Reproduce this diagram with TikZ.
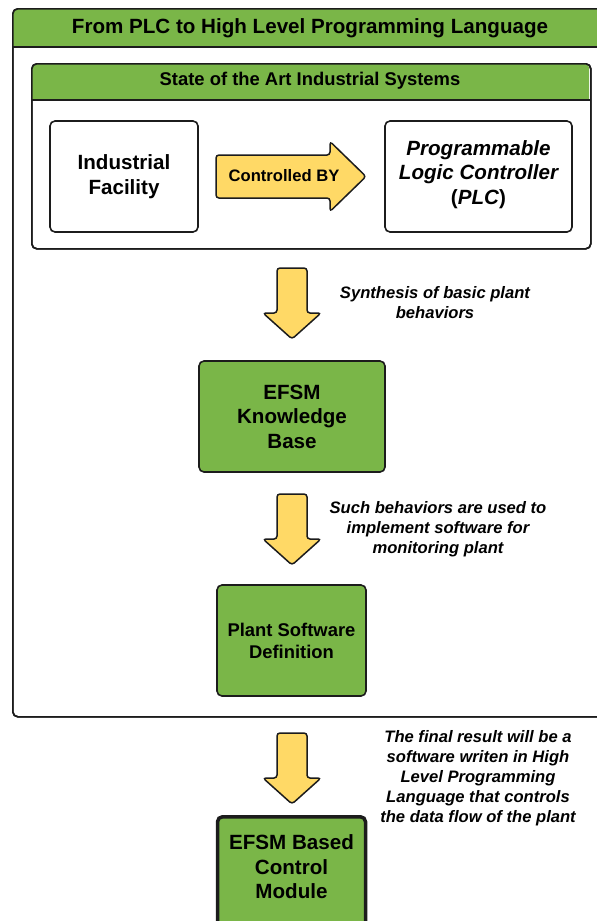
\documentclass[tikz,border=0pt]{standalone}
\usepackage{fontspec}
\setmainfont{Liberation Sans}
\definecolor{boxgreen}{HTML}{7AB648}
\definecolor{arrowyellow}{HTML}{FFD966}
\definecolor{edge}{HTML}{1C1C1C}
\tikzset{
  frame/.style={draw=edge, line width=1.6pt, rounded corners=5pt, fill=white},
  whitebox/.style={draw=edge, line width=1.6pt, rounded corners=5pt, fill=white,
    align=center, font=\fontsize{20.6}{24.5}\selectfont\bfseries},
  greenbox/.style={whitebox, fill=boxgreen},
  fatarrow/.style={draw=edge, line width=1.5pt, fill=arrowyellow, rounded corners=3pt},
  caption/.style={align=center, font=\fontsize{16.6}{20}\selectfont\bfseries\itshape},
  fatdown/.pic={
    \draw[fatarrow] (-15,0) -- (15,0) -- (15,45) -- (29,45) -- (0,71)
      -- (-29,45) -- (-15,45) -- cycle;
  }
}
\begin{document}
\begin{tikzpicture}[x=1pt,y=-1pt]
\useasboundingbox (0,0) rectangle (597,921);
\clip (0,0) rectangle (597,921);

% outer frame with its title strip
\node[frame, minimum width=596pt, minimum height=708pt, anchor=north west]
  (outer) at (12,8) {};
\fill[boxgreen] (12.8,47) {[rounded corners=4.2pt] -- (12.8,8.8) -- (607,8.8)} -- (607,47) -- cycle;
\draw[edge, line width=1.6pt] (12,47) -- (608,47);
\node[frame, fill=none, minimum width=596pt, minimum height=708pt, anchor=north west]
  at (12,8) {};
\node[font=\fontsize{20.6}{24}\selectfont\bfseries] (title) at (310,28)
  {From PLC to High Level Programming Language};

% inner frame: current industrial systems
\node[frame, minimum width=559pt, minimum height=185pt, anchor=north west]
  (inner) at (31,63) {};
\fill[boxgreen] (31.8,100) {[rounded corners=4.2pt] -- (31.8,63.8) -- (589.2,63.8)} -- (589.2,100) -- cycle;
\draw[edge, line width=1.6pt] (31,100) -- (590,100);
\node[frame, fill=none, minimum width=559pt, minimum height=185pt, anchor=north west]
  at (31,63) {};
\node[font=\fontsize{18.4}{22}\selectfont\bfseries] (subtitle) at (310,81)
  {State of the Art Industrial Systems};

\node[whitebox, minimum width=148pt, minimum height=111pt] (fac) at (124,176.5)
  {Industrial\\Facility};
\node[whitebox, minimum width=187pt, minimum height=111pt, text depth=8pt]
  (plc) at (478.5,176.5)
  {\itshape Programmable\\\itshape Logic Controller\\(\textit{PLC})};

\draw[fatarrow] (216,155) -- (330,155) -- (330,141.5) -- (366,176.5)
  -- (330,211.5) -- (330,198) -- (216,198) -- cycle;
\node[font=\fontsize{16.6}{20}\selectfont\bfseries] (ctrl) at (284,176) {Controlled BY};

% flow of derivation steps
\pic at (292,268) {fatdown};
\node[caption] (cap1) at (435,303) {Synthesis of basic plant\\behaviors};

\node[greenbox, minimum width=186pt, minimum height=111pt] (kb) at (292,416.5)
  {EFSM\\Knowledge\\Base};

\pic at (292,494) {fatdown};
\node[caption] (cap2) at (438,529)
  {Such behaviors are used to\\implement software for\\monitoring plant};

\node[greenbox, minimum width=149pt, minimum height=111pt,
  font=\fontsize{18.4}{22}\selectfont\bfseries] (psd) at (291.5,640.5)
  {Plant Software\\Definition};

\pic at (292,733) {fatdown};
\node[caption] (cap3) at (478,778)
  {The final result will be a\\software writen in High\\Level Programming\\Language that controls\\the data flow of the plant};

\node[greenbox, line width=3.5pt, minimum width=148pt, minimum height=140pt,
  anchor=north, text depth=40pt, inner sep=0pt] (ctl) at (291.5,815)
  {EFSM Based\\Control\\Module};
\end{tikzpicture}
\end{document}
